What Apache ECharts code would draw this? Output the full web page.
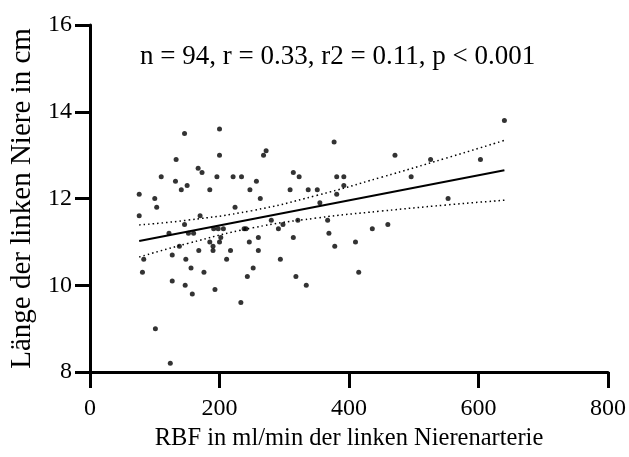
<!DOCTYPE html>
<html>
<head>
<meta charset="utf-8">
<script src="https://cdn.jsdelivr.net/npm/echarts@6/dist/echarts.min.js"></script>
<style>
html,body{margin:0;padding:0;background:#fff;}
#chart{width:629px;height:457px;}
</style>
</head>
<body>
<div id="chart"></div>
<script>
// Scatter data: RBF (ml/min) vs. length of left kidney (cm)
const rbf = [76,76,100,103,110,132,133,141,146,150,146,167,173,170,185,196,200,200,221,224,234,247,257,263,
  191,198,206,238,241,122,152,160,202,185,200,190,190,260,246,260,138,168,217,127,83,148,211,81,156,176,252,243,
  127,147,158,193,233,101,124,268,272,314,323,309,337,351,377,381,392,392,381,355,471,526,496,553,280,298,291,321,
  367,436,460,314,369,378,410,294,318,334,415,640,603];
const laenge = [12.1,11.6,12.0,11.8,12.5,12.4,12.9,12.2,13.5,12.3,11.4,12.7,12.6,11.6,12.2,12.5,13.0,13.6,12.5,11.8,12.5,12.2,12.4,12.0,
  11.3,11.3,11.3,11.3,11.3,11.2,11.2,11.2,11.1,11.0,11.0,10.9,10.8,11.1,11.0,10.8,10.9,10.8,10.8,10.7,10.6,10.6,10.6,10.3,10.4,10.3,10.4,10.2,
  10.1,10.0,9.8,9.9,9.6,9.0,8.2,13.0,13.1,12.6,12.5,12.2,12.2,12.2,13.3,12.5,12.5,12.3,12.1,11.9,13.0,12.9,12.5,12.0,11.5,11.4,11.3,11.5,
  11.5,11.3,11.4,11.1,11.2,10.9,11.0,10.6,10.2,10.0,10.3,13.8,12.9];

// Regression line and 95% confidence band
const fitX = [76, 640];
const fitY = [11.02, 12.65];
const bandX = [76, 150, 250, 350, 450, 550, 640];
const bandUpper = [11.39, 11.50, 11.72, 12.07, 12.49, 12.93, 13.34];
const bandLower = [10.65, 10.96, 11.32, 11.55, 11.71, 11.85, 11.96];

// Axis ticks
const xTicks = [0, 200, 400, 600, 800];
const yTicks = [8, 10, 12, 14, 16];

const statsText = 'n = 94, r = 0.33, r2 = 0.11, p < 0.001';
const xName = 'RBF in ml/min der linken Nierenarterie';
const yName = 'Länge der linken Niere in cm';

const FONT = '"Liberation Serif", "Times New Roman", serif';

const chart = echarts.init(document.getElementById('chart'), null, {renderer: 'canvas'});
const pts = rbf.map((x, i) => [x, laenge[i]]);
const fit = fitX.map((x, i) => [x, fitY[i]]);
const up = bandX.map((x, i) => [x, bandUpper[i]]);
const lo = bandX.map((x, i) => [x, bandLower[i]]);

chart.setOption({
  animation: false,
  backgroundColor: '#fff',
  grid: {left: 90, right: 20, top: 25, bottom: 85, containLabel: false},
  xAxis: {
    type: 'value',
    min: xTicks[0], max: xTicks[xTicks.length - 1], interval: 200,
    name: xName, nameLocation: 'middle', nameGap: 53,
    nameTextStyle: {fontFamily: FONT, fontSize: 24.5, color: '#000'},
    axisLine: {show: true, onZero: false, lineStyle: {color: '#000', width: 3}},
    axisTick: {show: true, length: 16, lineStyle: {color: '#000', width: 3}},
    axisLabel: {fontFamily: FONT, fontSize: 24, color: '#000', margin: 25},
    splitLine: {show: false}
  },
  yAxis: {
    type: 'value',
    min: yTicks[0], max: yTicks[yTicks.length - 1], interval: 2,
    name: yName, nameLocation: 'middle', nameGap: 52, nameRotate: 90,
    nameTextStyle: {fontFamily: FONT, fontSize: 29, color: '#000'},
    axisLine: {show: true, onZero: false, lineStyle: {color: '#000', width: 3}},
    axisTick: {show: true, length: 15, lineStyle: {color: '#000', width: 3}},
    axisLabel: {fontFamily: FONT, fontSize: 24, color: '#000', margin: 18},
    splitLine: {show: false}
  },
  graphic: [{
    type: 'text', left: 140, top: 43,
    style: {text: statsText, font: '27px ' + FONT, fill: '#000'}
  }],
  series: [
    {type: 'line', data: up, smooth: true, symbol: 'none', z: 2,
     lineStyle: {color: '#000', width: 1.5, type: [1.5, 3]}},
    {type: 'line', data: lo, smooth: true, symbol: 'none', z: 2,
     lineStyle: {color: '#000', width: 1.5, type: [1.5, 3]}},
    {type: 'line', data: fit, symbol: 'none', z: 3,
     lineStyle: {color: '#000', width: 2}},
    {type: 'scatter', data: pts, symbol: 'circle', symbolSize: 5, z: 4,
     itemStyle: {color: '#000'}}
  ]
});
</script>
</body>
</html>
